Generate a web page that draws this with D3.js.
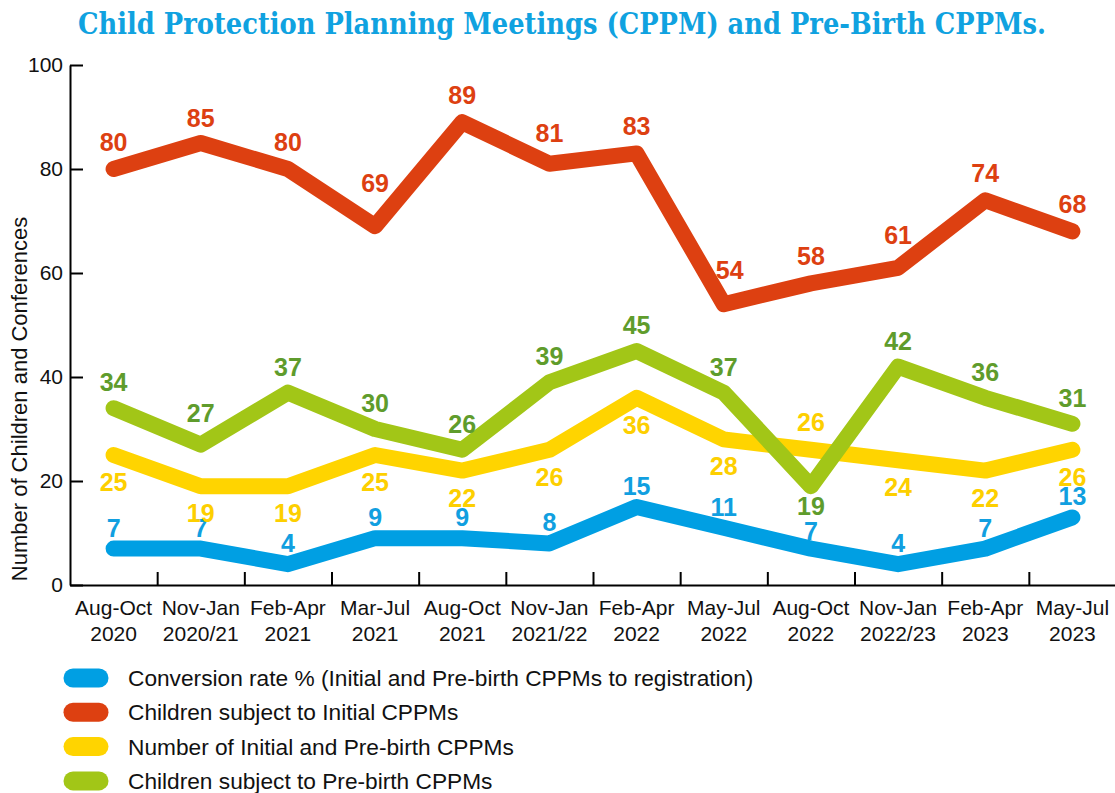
<!DOCTYPE html>
<html>
<head>
<meta charset="utf-8">
<script src="https://cdn.jsdelivr.net/npm/d3@7"></script>
<style>
  body { margin: 0; background: #fff; }
  svg { display: block; }
  text { font-family: "Liberation Sans", Arial, sans-serif; }
</style>
</head>
<body>
<div id="chart"></div>
<script>
// data
const periods = ["Aug-Oct", "Nov-Jan", "Feb-Apr", "Mar-Jul", "Aug-Oct", "Nov-Jan",
                 "Feb-Apr", "May-Jul", "Aug-Oct", "Nov-Jan", "Feb-Apr", "May-Jul"];
const years = ["2020", "2020/21", "2021", "2021", "2021", "2021/22",
               "2022", "2022", "2022", "2022/23", "2023", "2023"];
const conversionRate = [7, 7, 4, 9, 9, 8, 15, 11, 7, 4, 7, 13];
const initialChildren = [80, 85, 80, 69, 89, 81, 83, 54, 58, 61, 74, 68];
const cppmCount = [25, 19, 19, 25, 22, 26, 36, 28, 26, 24, 22, 26];
const prebirthChildren = [34, 27, 37, 30, 26, 39, 45, 37, 19, 42, 36, 31];
const yTicks = [0, 20, 40, 60, 80, 100];
const legendNames = [
  "Conversion rate % (Initial and Pre-birth CPPMs to registration)",
  "Children subject to Initial CPPMs",
  "Number of Initial and Pre-birth CPPMs",
  "Children subject to Pre-birth CPPMs"
];

const categories = periods.map((p, i) => p + " " + years[i]);

// styling per series (green drawn last so it sits on top of yellow)
// nudge: extra [dx, dy] for a few labels that sit off the usual spot
const series = [
  { values: conversionRate, color: "#009fe3", labelColor: "#119fe0", above: -21, below: 21, flip: [],
    nudge: { 8: [0, 3] } },
  { values: initialChildren, color: "#dd4011", labelColor: "#dd4011", above: -27, below: 27, flip: [],
    nudge: { 1: [0, 2], 3: [0, -16], 5: [0, -4], 7: [6, -7], 9: [0, -6] } },
  { values: cppmCount, color: "#ffd400", labelColor: "#fdcf00", above: -28, below: 27, flip: [8], side: "below", nudge: {} },
  { values: prebirthChildren, color: "#a2c617", labelColor: "#5f9c2c", above: -26, below: 20, flip: [8],
    nudge: { 1: [0, -6] } }
];

const width = 1115, height = 793;
const svg = d3.select("#chart").append("svg")
  .attr("width", width)
  .attr("height", height);

// title
svg.append("text")
  .attr("x", 562)
  .attr("y", 34)
  .attr("text-anchor", "middle")
  .attr("textLength", 968)
  .attr("lengthAdjust", "spacingAndGlyphs")
  .style("font-family", "'DejaVu Serif Condensed', 'DejaVu Serif', serif")
  .style("font-stretch", "condensed")
  .style("font-weight", "bold")
  .style("font-size", "30px")
  .attr("fill", "#10a2e0")
  .text("Child Protection Planning Meetings (CPPM) and Pre-Birth CPPMs.");

const plotLeft = 70, plotRight = 1116, plotTop = 65, plotBottom = 585;

const x = d3.scaleBand().domain(categories).range([plotLeft, plotRight]);
const xEdge = d3.scaleLinear().domain([0, categories.length]).range([plotLeft, plotRight]);
const y = d3.scaleLinear().domain([0, 100]).range([plotBottom, plotTop]);
const cx = d => x(d) + x.bandwidth() / 2;

// y axis
const yAxis = svg.append("g")
  .attr("transform", `translate(${plotLeft},0)`)
  .call(d3.axisLeft(y).tickValues(yTicks).tickSize(-13).tickSizeOuter(0).tickPadding(7));
yAxis.select(".domain").attr("stroke", "#000").attr("stroke-width", 2);
yAxis.selectAll(".tick line").attr("stroke", "#000").attr("stroke-width", 2);
yAxis.selectAll(".tick text")
  .style("font-size", "21px")
  .style("font-family", "'Liberation Sans', Arial, sans-serif")
  .attr("fill", "#111");

// x axis: boundary ticks pointing up
const xAxis = svg.append("g")
  .attr("transform", `translate(0,${plotBottom})`)
  .call(d3.axisBottom(xEdge).tickValues(d3.range(1, categories.length + 1))
    .tickSize(-13).tickSizeOuter(0).tickFormat(""));
xAxis.select(".domain").attr("stroke", "#000").attr("stroke-width", 2);
xAxis.selectAll(".tick line").attr("stroke", "#000").attr("stroke-width", 2);

// category labels (two lines)
const catLabels = svg.append("g").selectAll("text")
  .data(categories)
  .join("text")
  .attr("x", d => cx(d))
  .attr("y", 615)
  .attr("text-anchor", "middle")
  .style("font-size", "21px")
  .attr("fill", "#111");
catLabels.append("tspan").attr("x", d => cx(d)).text((d, i) => periods[i]);
catLabels.append("tspan").attr("x", d => cx(d)).attr("dy", 26).text((d, i) => years[i]);

// y axis title
svg.append("text")
  .attr("transform", "translate(27,399) rotate(-90)")
  .attr("text-anchor", "middle")
  .style("font-size", "22px")
  .attr("fill", "#111")
  .text("Number of Children and Conferences");

// lines
const line = d3.line()
  .x((d, i) => cx(categories[i]))
  .y(d => y(d));

svg.append("g").selectAll("path")
  .data(series)
  .join("path")
  .attr("d", s => line(s.values))
  .attr("fill", "none")
  .attr("stroke", s => s.color)
  .attr("stroke-width", 16)
  .attr("stroke-linecap", "round")
  .attr("stroke-linejoin", "round");

// value labels
series.forEach(s => {
  const base = s.side === "below" ? "below" : "above";
  const nudge = i => s.nudge[i] || [0, 0];
  svg.append("g").selectAll("text")
    .data(s.values)
    .join("text")
    .attr("x", (d, i) => cx(categories[i]) + nudge(i)[0])
    .attr("y", (d, i) => {
      let side = base;
      if (s.flip.includes(i)) side = base === "above" ? "below" : "above";
      return y(d) + (side === "above" ? s.above : s.below) + nudge(i)[1];
    })
    .attr("dy", "0.36em")
    .attr("text-anchor", "middle")
    .style("font-size", "25px")
    .style("font-weight", "bold")
    .attr("fill", s.labelColor)
    .text(d => d);
});

// legend
const legend = svg.append("g").selectAll("g")
  .data(series)
  .join("g")
  .attr("transform", (s, i) => `translate(0,${678 + i * 34.3})`);
legend.append("line")
  .attr("x1", 73).attr("x2", 99)
  .attr("stroke", s => s.color)
  .attr("stroke-width", 19)
  .attr("stroke-linecap", "round");
legend.append("text")
  .attr("x", 128)
  .attr("dy", "0.36em")
  .style("font-size", "22.7px")
  .attr("fill", "#111")
  .text((s, i) => legendNames[i]);
</script>
</body>
</html>
